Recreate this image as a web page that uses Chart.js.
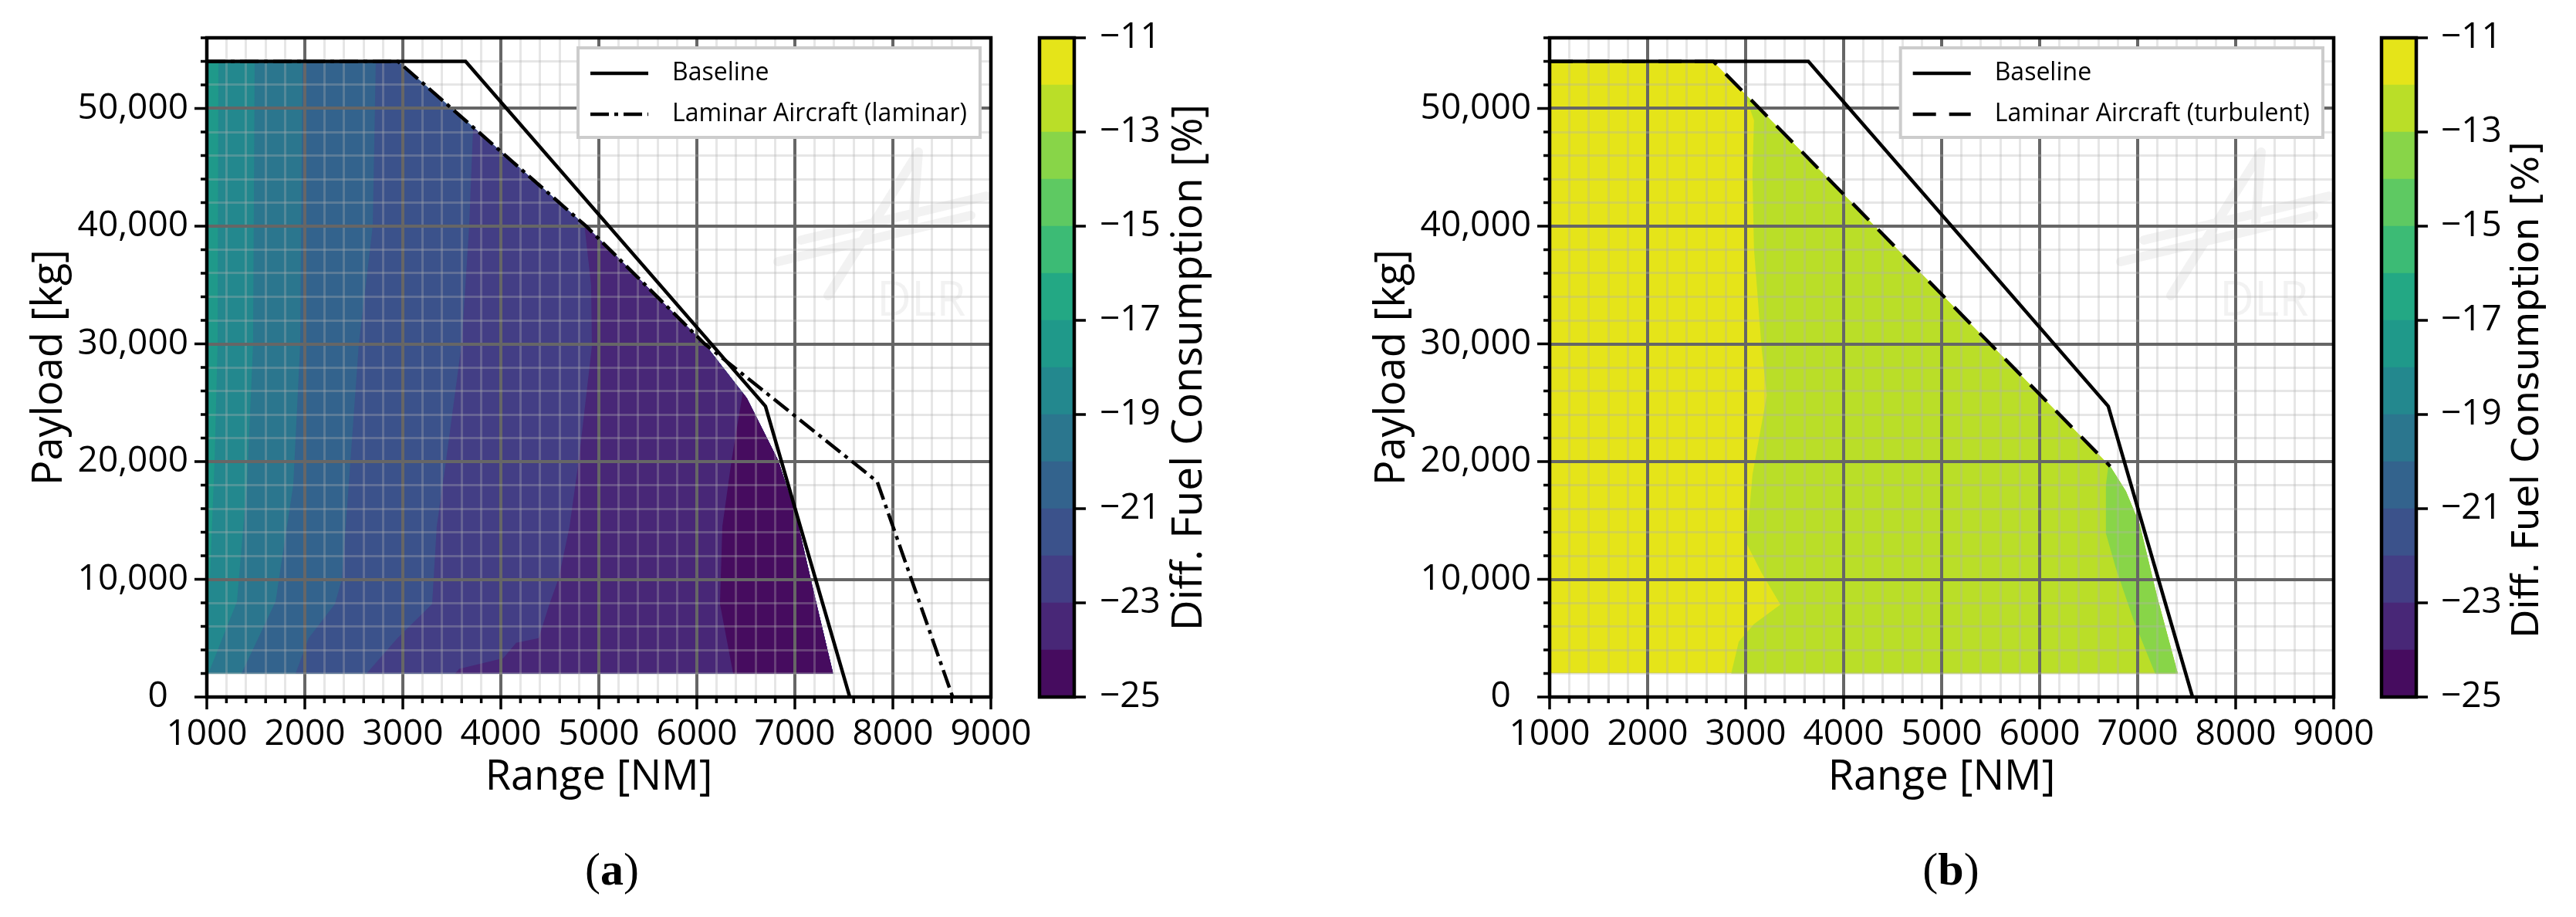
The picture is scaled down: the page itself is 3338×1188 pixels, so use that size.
<!DOCTYPE html>
<html>
<head>
<meta charset="utf-8">
<script src="https://cdn.jsdelivr.net/npm/chart.js@4.4.1/dist/chart.umd.min.js"></script>
<style>
  body { margin: 0; background: #fff; width: 3338px; height: 1188px; position: relative; overflow: hidden; }
  canvas { position: absolute; top: 0; }
  .sub { position: absolute; top: 1096px; width: 200px; margin-left: -100px; text-align: center;
         font-family: 'Liberation Serif', serif; font-size: 60px; line-height: 60px; color: #000; }
</style>
</head>
<body>
<canvas id="plotA" style="left:0px" width="1345" height="1060"></canvas>
<canvas id="cbarA" style="left:1320px" width="280" height="1000"></canvas>
<canvas id="plotB" style="left:1740px" width="1345" height="1060"></canvas>
<canvas id="cbarB" style="left:3060px" width="278" height="1000"></canvas>
<div class="sub" style="left:793px">(<b>a</b>)</div>
<div class="sub" style="left:2528px">(<b>b</b>)</div>
<script>
// axes
const rangeLabels = [1000, 2000, 3000, 4000, 5000, 6000, 7000, 8000, 9000];
const payloadLabels = [0, 10000, 20000, 30000, 40000, 50000];
const payloadMax = 56000;
const rangeMinorStep = 200;
const payloadMinorStep = 2000;

// colour bar
const cbarLevels = [-25, -24, -23, -22, -21, -20, -19, -18, -17, -16, -15, -14, -13, -12, -11];
const cbarTicks = [-25, -23, -21, -19, -17, -15, -13, -11];
const cbarColors = ['#460c5f', '#482777', '#433e85', '#3b528b', '#33638d', '#2b768e', '#23888e',
                    '#1f998a', '#23a884', '#3cbb75', '#5ec962', '#88d548', '#bade28', '#e5e419'];

// payload-range envelopes
const baselineRange = [1000, 3640, 6700, 7560];
const baselinePayload = [54000, 54000, 24700, 0];
const laminarRange = [1000, 2950, 4870, 6080, 7840, 8610];
const laminarPayload = [54000, 54000, 40000, 30000, 18300, 0];
const turbulentRange = [1000, 2670, 6720];
const turbulentPayload = [54000, 54000, 19600];

// (a) laminar: filled area and iso lines [range, payload], bottom to top
const domainA = [[1000, 2000], [1000, 54000], [2950, 54000], [4870, 40000], [6080, 30000], [6510, 25400],
                 [6830, 20100], [7010, 15500], [7190, 9000], [7390, 2000]];
const baseLevelA = -17;
const isoA18 = [[950, 2000], [1000, 5000], [1031, 10000], [1079, 20000], [1110, 30000], [1118, 54000]];
const isoA19 = [[1016, 2000], [1307, 8100], [1409, 18000], [1472, 30000], [1488, 54000]];
const isoA20 = [[1354, 2000], [1701, 8100], [1882, 18000], [1953, 30000], [1976, 54000]];
const isoA21 = [[1906, 2000], [2039, 5000], [2307, 7900], [2378, 10000], [2465, 20000], [2551, 30000],
                [2693, 40000], [2724, 54000]];
const isoA22 = [[2630, 2000], [2945, 5000], [3299, 7900], [3346, 14500], [3441, 20100], [3600, 30000],
                [3677, 40000], [3717, 48400]];
const isoA23 = [[3535, 2000], [3575, 2400], [4024, 3300], [4157, 4600], [4386, 5000], [4496, 7900],
                [4591, 10100], [4701, 14500], [4795, 20100], [4929, 29800], [4921, 35000], [4850, 40300]];
const isoA24 = [[6370, 2000], [6236, 7900], [6260, 14500], [6354, 20100], [6465, 25700]];
const levelsA = [-18, -19, -20, -21, -22, -23, -24];
const isoLinesA = [isoA18, isoA19, isoA20, isoA21, isoA22, isoA23, isoA24];

// (b) turbulent
const domainB = [[1000, 2000], [1000, 54000], [2670, 54000], [6720, 19600], [6880, 17500], [7020, 14700],
                 [7200, 8500], [7410, 2000]];
const baseLevelB = -11;
const isoB12 = [[2853, 2000], [2930, 4700], [3085, 6200], [3355, 7850], [3162, 10560], [3008, 13060],
                [3040, 16000], [3070, 18900], [3124, 21400], [3216, 25600], [3162, 29760], [3085, 38100],
                [3070, 44400], [3085, 49000], [3008, 50840]];
const isoB13 = [[7178, 2000], [6960, 6500], [6776, 10980], [6676, 13900], [6676, 18000], [6700, 19600]];
const levelsB = [-12, -13];
const isoLinesB = [isoB12, isoB13];

Chart.defaults.font.family = "'Open Sans', sans-serif";
Chart.defaults.color = '#000';

const rangeMin = rangeLabels[0];
const rangeMax = rangeLabels[rangeLabels.length - 1];

function pts(xs, ys) { return xs.map((x, i) => ({ x: x, y: ys[i] })); }
function pairs(arr) { return arr.map(p => ({ x: p[0], y: p[1] })); }
function bandColor(level) { return cbarColors[level - 1 - cbarLevels[0]]; }
function stepsBetween(lo, hi, step) {
  const out = [];
  for (let v = lo; v <= hi; v += step) out.push({ value: v });
  return out;
}

function contourSets(domain, baseLevel, levels, isoLines) {
  const sets = [{ data: pairs(domain), fill: 'shape', backgroundColor: bandColor(baseLevel),
                  borderWidth: 0, pointRadius: 0, order: 50 }];
  isoLines.forEach((iso, i) => {
    const p = pairs(iso);
    const first = p[0], last = p[p.length - 1];
    p.unshift({ x: first.x, y: 0 });
    p.push({ x: last.x, y: payloadMax }, { x: rangeMax, y: payloadMax }, { x: rangeMax, y: 0 });
    sets.push({ data: p, fill: 'shape', backgroundColor: bandColor(levels[i]),
                borderWidth: 0, pointRadius: 0, order: 40 - i });
  });
  return sets;
}

function lineSet(label, xs, ys, dash) {
  return { label: label, data: pts(xs, ys), borderColor: '#000', borderWidth: 4.5, borderDash: dash,
           pointRadius: 0, fill: false, tension: 0, order: 0, late: true };
}

const gridColor = (major) => (c) => major.includes(c.tick.value) ? '#666666' : 'rgba(176,176,176,0.32)';

const plotPlugin = {
  id: 'payloadRange',
  beforeDraw(chart) {
    const { ctx, chartArea: a } = chart;
    // faint DLR watermark
    ctx.save();
    ctx.strokeStyle = 'rgba(0,0,0,0.05)';
    ctx.lineWidth = 12;
    ctx.lineCap = 'round';
    ctx.beginPath();
    ctx.moveTo(a.left + 740, a.top + 290); ctx.lineTo(a.left + 990, a.top + 230);
    ctx.moveTo(a.left + 770, a.top + 262); ctx.lineTo(a.left + 1010, a.top + 205);
    ctx.moveTo(a.left + 805, a.top + 334); ctx.lineTo(a.left + 922, a.top + 148);
    ctx.moveTo(a.left + 922, a.top + 148); ctx.lineTo(a.left + 915, a.top + 240);
    ctx.stroke();
    ctx.fillStyle = 'rgba(0,0,0,0.05)';
    ctx.font = "62px 'Open Sans'";
    ctx.textBaseline = 'alphabetic';
    ctx.fillText('DLR', a.left + 868, a.top + 360);
    ctx.restore();
  },
  beforeDatasetsDraw(chart) {
    // clip the contour fill to its domain
    const { ctx, scales: { x, y } } = chart;
    const dom = chart.options.plugins.payloadRange.domain;
    ctx.save();
    ctx.beginPath();
    dom.forEach((p, i) => {
      const px = x.getPixelForValue(p[0]), py = y.getPixelForValue(p[1]);
      if (i === 0) ctx.moveTo(px, py); else ctx.lineTo(px, py);
    });
    ctx.closePath();
    ctx.clip();
  },
  beforeDatasetDraw(chart, args) {
    if (chart.data.datasets[args.index].late) return false;
  },
  afterDatasetsDraw(chart) {
    chart.ctx.restore();
  },
  afterDraw(chart) {
    const { ctx, chartArea: a, scales: { x, y } } = chart;
    // envelopes on top of the grid
    ctx.save();
    ctx.beginPath();
    ctx.rect(a.left, a.top, a.right - a.left, a.bottom - a.top);
    ctx.clip();
    chart.data.datasets.forEach((ds, i) => { if (ds.late) chart.getDatasetMeta(i).controller.draw(); });
    ctx.restore();
    // frame and tick marks
    ctx.save();
    ctx.strokeStyle = '#000';
    ctx.lineWidth = 4.5;
    ctx.strokeRect(a.left, a.top, a.right - a.left, a.bottom - a.top);
    ctx.lineWidth = 3.5;
    ctx.beginPath();
    x.ticks.forEach(t => {
      const px = x.getPixelForValue(t.value);
      const len = rangeLabels.includes(t.value) ? 16 : 8;
      ctx.moveTo(px, a.bottom); ctx.lineTo(px, a.bottom + len);
    });
    y.ticks.forEach(t => {
      const py = y.getPixelForValue(t.value);
      const len = payloadLabels.includes(t.value) ? 16 : 8;
      ctx.moveTo(a.left, py); ctx.lineTo(a.left - len, py);
    });
    ctx.stroke();
    // legend
    const items = chart.data.datasets.filter(ds => ds.late && ds.label);
    ctx.font = "32px 'Open Sans'";
    const textW = Math.max(...items.map(d => ctx.measureText(d.label).width));
    const w = 16 + 75 + 31 + textW + 17;
    const bx = a.right - 14 - w, by = a.top + 13, bh = 116;
    ctx.fillStyle = '#fff';
    ctx.fillRect(bx, by, w, bh);
    ctx.strokeStyle = '#cccccc';
    ctx.lineWidth = 4;
    ctx.strokeRect(bx, by, w, bh);
    items.forEach((d, i) => {
      const ry = by + 33 + i * 53;
      ctx.strokeStyle = '#000';
      ctx.lineWidth = 4.5;
      ctx.setLineDash(d.borderDash || []);
      ctx.beginPath();
      ctx.moveTo(bx + 16, ry); ctx.lineTo(bx + 91, ry);
      ctx.stroke();
      ctx.setLineDash([]);
      ctx.fillStyle = '#000';
      ctx.textBaseline = 'middle';
      ctx.fillText(d.label, bx + 122, ry);
    });
    ctx.restore();
  }
};

function makePlot(id, domain, baseLevel, levels, isoLines, lines) {
  return new Chart(document.getElementById(id), {
    type: 'line',
    data: { datasets: lines.concat(contourSets(domain, baseLevel, levels, isoLines)) },
    options: {
      responsive: false,
      animation: false,
      events: [],
      layout: { padding: { top: 49, right: 61, left: 0, bottom: 0 } },
      plugins: { legend: { display: false }, tooltip: { enabled: false }, payloadRange: { domain: domain } },
      scales: {
        x: {
          type: 'linear', min: rangeMin, max: rangeMax,
          afterBuildTicks: s => { s.ticks = stepsBetween(rangeMin, rangeMax, rangeMinorStep); },
          afterFit: s => { s.height = 157; s.paddingLeft = 0; s.paddingRight = 0; },
          grid: { z: 1, color: gridColor(rangeLabels), lineWidth: c => rangeLabels.includes(c.tick.value) ? 4 : 3, drawTicks: false },
          border: { display: false },
          ticks: { z: 1, autoSkip: false, maxRotation: 0, padding: 21, font: { size: 46 },
                   callback: v => rangeLabels.includes(v) ? String(v) : '' },
          title: { display: true, text: 'Range [NM]', font: { size: 54 }, padding: { top: 0, bottom: 20 } }
        },
        y: {
          type: 'linear', min: 0, max: payloadMax,
          afterBuildTicks: s => { s.ticks = stepsBetween(0, payloadMax, payloadMinorStep); },
          afterFit: s => { s.width = 268; s.paddingTop = 0; s.paddingBottom = 0; },
          grid: { z: 1, color: gridColor(payloadLabels), lineWidth: c => payloadLabels.includes(c.tick.value) ? 4 : 3, drawTicks: false },
          border: { display: false },
          ticks: { z: 1, autoSkip: false, padding: 24, font: { size: 46 },
                   callback: v => !payloadLabels.includes(v) ? '' : (v === 0 ? '0\u2007' : v.toLocaleString('en-US')) },
          title: { display: true, text: 'Payload [kg]', font: { size: 54 }, padding: { top: 32, bottom: 0 } }
        }
      }
    },
    plugins: [plotPlugin]
  });
}

const cbarPlugin = {
  id: 'cbarFrame',
  afterDraw(chart) {
    const { ctx, chartArea: a, scales: { y } } = chart;
    const o = chart.options.plugins.cbarFrame;
    ctx.save();
    ctx.strokeStyle = '#000';
    ctx.lineWidth = 4.5;
    ctx.strokeRect(a.left, a.top, a.right - a.left, a.bottom - a.top);
    ctx.lineWidth = 3.5;
    ctx.beginPath();
    y.ticks.forEach(t => {
      const py = y.getPixelForValue(t.value);
      ctx.moveTo(a.right, py); ctx.lineTo(a.right + 15, py);
    });
    ctx.stroke();
    ctx.translate(o.labelX, (a.top + a.bottom) / 2 + o.labelShift);
    ctx.rotate(-Math.PI / 2);
    ctx.fillStyle = '#000';
    ctx.font = o.font;
    ctx.textAlign = 'center';
    ctx.textBaseline = 'middle';
    ctx.fillText('Diff. Fuel Consumption [%]', 0, 0);
    ctx.restore();
  }
};

function makeCbar(id, padLeft, axisWidth, labelPad, labelX, labelShift, font) {
  return new Chart(document.getElementById(id), {
    type: 'bar',
    data: {
      labels: [''],
      datasets: cbarColors.map((c, i) => ({
        data: [[cbarLevels[i], cbarLevels[i + 1]]], backgroundColor: c, borderWidth: 0,
        barPercentage: 1, categoryPercentage: 1, grouped: false
      }))
    },
    options: {
      responsive: false,
      animation: false,
      events: [],
      layout: { padding: { top: 49, bottom: 97, left: padLeft, right: 0 } },
      plugins: { legend: { display: false }, tooltip: { enabled: false },
                 cbarFrame: { labelX: labelX, labelShift: labelShift, font: font } },
      scales: {
        x: { display: false },
        y: {
          position: 'right', min: cbarLevels[0], max: cbarLevels[cbarLevels.length - 1],
          afterBuildTicks: s => { s.ticks = cbarTicks.map(v => ({ value: v })); },
          afterFit: s => { s.width = axisWidth; s.paddingTop = 0; s.paddingBottom = 0; },
          grid: { display: false, drawTicks: false },
          border: { display: false },
          ticks: { padding: labelPad, font: { size: 46 }, callback: v => '\u2212' + Math.abs(v) }
        }
      }
    },
    plugins: [cbarPlugin]
  });
}

makePlot('plotA', domainA, baseLevelA, levelsA, isoLinesA, [
  lineSet('Baseline', baselineRange, baselinePayload, []),
  lineSet('Laminar Aircraft (laminar)', laminarRange, laminarPayload, [24, 7, 5, 7])
]);
makePlot('plotB', domainB, baseLevelB, levelsB, isoLinesB, [
  lineSet('Baseline', baselineRange, baselinePayload, []),
  lineSet('Laminar Aircraft (turbulent)', turbulentRange, turbulentPayload, [30, 17])
]);
makeCbar('cbarA', 27, 208, 33, 221, 0, "55px 'Open Sans'");
makeCbar('cbarB', 26, 207, 32, 217, 29, "48px 'DejaVu Sans'");
</script>
</body>
</html>
